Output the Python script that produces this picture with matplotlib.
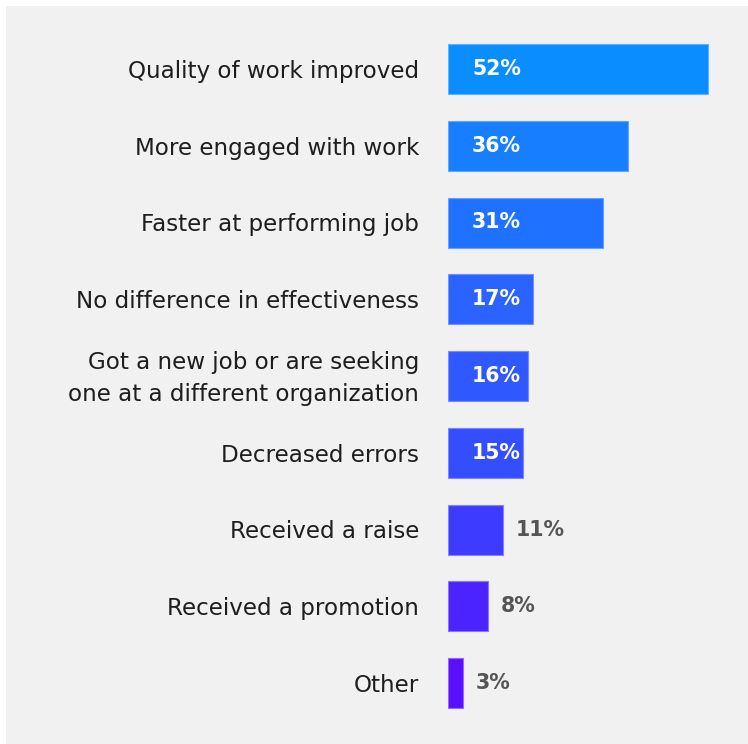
import matplotlib
matplotlib.use("Agg")
import matplotlib.pyplot as plt
from matplotlib.patches import Rectangle

categories = [
    "Quality of work improved",
    "More engaged with work",
    "Faster at performing job",
    "No difference in effectiveness",
    "Got a new job or are seeking\none at a different organization",
    "Decreased errors",
    "Received a raise",
    "Received a promotion",
    "Other",
]
values = [52, 36, 31, 17, 16, 15, 11, 8, 3]
bar_colors = ["#0a8eff", "#167eff", "#1f72ff", "#2a63ff", "#2f59ff",
              "#334eff", "#3d3bff", "#4a23ff", "#5a10ff"]
edge_colors = ["#5ab4ff", "#62a6ff", "#6a9eff", "#7393ff", "#788cff",
               "#7c85ff", "#8480ff", "#8d72ff", "#9766ff"]

W, H = 748, 744
fig = plt.figure(figsize=(W / 100, H / 100), dpi=100, facecolor="white")
fig.patches.append(Rectangle((6 / W, 0), 1, 1 - 6 / H, transform=fig.transFigure,
                             facecolor="#f1f1f1", edgecolor="none", zorder=-10))

px_per_unit = 5.0      # horizontal pixels per percentage point
row_px = 76.75         # vertical pixels between bar centres
x0_px = 448            # left edge of bars
first_px = 69          # centre of first bar from top

ax = fig.add_axes([x0_px / W, 0, (W - x0_px) / W, 1])
ax.set_zorder(5)
ax.set_xlim(0, (W - x0_px) / px_per_unit)
ax.set_ylim(len(values) - 1 + (H - first_px - 8 * row_px) / row_px, -first_px / row_px)
ax.axis("off")
ax.patch.set_alpha(0)

ypos = list(range(len(values)))
ax.barh(ypos, values, height=50 / row_px, color=bar_colors,
        edgecolor=edge_colors, linewidth=0.8)

font = "DejaVu Sans"
label_dy = 2.5 / row_px
for y, v, label in zip(ypos, values, categories):
    ax.text(-29 / px_per_unit, y + label_dy, label, ha="right", va="center",
            fontsize=16.6, color="#1e1e1e", family=font, linespacing=1.55,
            clip_on=False)
    if v >= 15:
        ax.text(24 / px_per_unit, y, f"{v}%", ha="left", va="center",
                fontsize=14.8, color="white", family=font, fontweight="bold")
    else:
        ax.text(v + 13 / px_per_unit, y, f"{v}%", ha="left", va="center",
                fontsize=14.8, color="#555555", family=font, fontweight="bold")

fig.savefig("out.png", dpi=100, facecolor=fig.get_facecolor())
